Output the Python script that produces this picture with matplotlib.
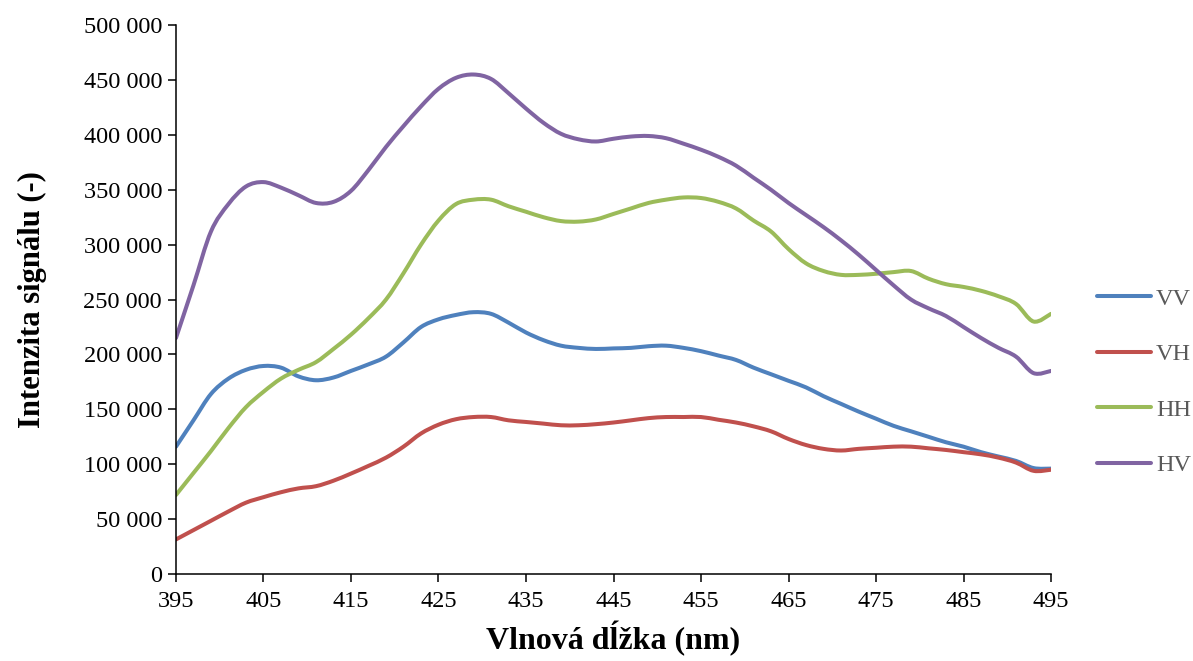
import matplotlib.pyplot as plt
from matplotlib.ticker import FuncFormatter, MultipleLocator
from matplotlib.path import Path
from matplotlib.patches import PathPatch

plt.rcParams['font.family'] = ['Liberation Serif', 'DejaVu Serif']

# wavelength (nm)
wl = list(range(395, 496, 2))

# signal intensity (thousands)
vv = [116, 140, 164, 178, 186, 189.5, 188, 180, 176.5, 179, 185, 191, 198, 211, 225, 232,
      236, 238.5, 237, 229, 220, 213, 208, 206, 205, 205.5, 206, 207.5, 208, 206, 203, 199,
      195, 188, 182, 176, 170, 162, 155, 148, 141.5, 135, 130, 125, 120, 116, 111, 107,
      103, 96.5, 96]
vh = [31.5, 40, 48.5, 57, 65, 70, 74.5, 78, 80, 85, 91.5, 98.5, 106, 116, 128, 136,
      141, 143, 143, 140, 138.5, 137, 135.5, 135.5, 136.5, 138, 140, 142, 143, 143, 143, 140.5,
      138, 134.5, 130, 123, 117.5, 114, 112.5, 114, 115, 116, 116, 114.5, 113, 111, 109, 106,
      101.5, 94, 95]
hh = [72, 92, 112, 133, 152, 166, 178, 186, 193, 205, 218, 233, 250, 274, 300, 322,
      337, 341, 341, 335, 330, 325, 321.5, 321, 323, 328, 333, 338, 341, 343, 342.5, 339,
      333, 322, 312, 296, 283, 276, 272.5, 272.5, 273.5, 275, 276, 269, 264, 261.5, 258, 253,
      246, 230, 237]
hv = [215, 263, 312, 337, 353, 357, 352, 345, 338, 339, 349, 368, 389, 408, 426, 442,
      452, 455, 451, 438, 424, 411, 401, 396, 394, 396.5, 398.5, 399, 397, 392, 386.5, 380,
      372, 361, 350, 338, 327, 316, 304, 291, 277, 263, 250, 242, 235, 225, 215, 206,
      198, 183, 185]

series = [('VV', vv, '#4F81BD'), ('VH', vh, '#C0504D'),
          ('HH', hh, '#9BBB59'), ('HV', hv, '#8064A2')]

xticks = list(range(395, 496, 10))


def smooth_path(xs, ys):
    # Excel-like smoothed line: bezier segments through the data points
    pts = list(zip(xs, ys))
    verts = [pts[0]]
    codes = [Path.MOVETO]
    n = len(pts)
    for i in range(n - 1):
        p0 = pts[max(i - 1, 0)]
        p1 = pts[i]
        p2 = pts[i + 1]
        p3 = pts[min(i + 2, n - 1)]
        c1 = (p1[0] + (p2[0] - p0[0]) / 6, p1[1] + (p2[1] - p0[1]) / 6)
        c2 = (p2[0] - (p3[0] - p1[0]) / 6, p2[1] - (p3[1] - p1[1]) / 6)
        verts += [c1, c2, p2]
        codes += [Path.CURVE4] * 3
    return Path(verts, codes)


fig = plt.figure(figsize=(11.93, 6.61), dpi=100)
ax = fig.add_axes([0.1475, 0.1316, 0.7335, 0.8304])

for name, vals, col in series:
    yv = [v * 1000 for v in vals]
    ax.add_patch(PathPatch(smooth_path(wl, yv), facecolor='none', edgecolor=col,
                           lw=2.9, capstyle='round', joinstyle='round'))
    ax.plot([], [], color=col, lw=2.9, label=name, solid_capstyle='round')

ax.set_xlim(395, 495)
ax.set_ylim(0, 500000)
ax.set_xticks(xticks)
ax.yaxis.set_major_locator(MultipleLocator(50000))
ax.yaxis.set_major_formatter(FuncFormatter(lambda v, p: '{:,}'.format(int(v)).replace(',', ' ')))

for s in ['top', 'right']:
    ax.spines[s].set_visible(False)
for s in ['left', 'bottom']:
    ax.spines[s].set_linewidth(1.1)
ax.tick_params(direction='out', length=6, width=1.1, labelsize=17.5)
ax.tick_params(axis='x', pad=6)
ax.tick_params(axis='y', pad=4)

ax.set_xlabel('Vlnová dĺžka (nm)', fontsize=23, fontweight='bold', labelpad=7)
ax.set_ylabel('Intenzita signálu (-)', fontsize=22, fontweight='bold', labelpad=26)

leg = ax.legend(loc='center left', bbox_to_anchor=(1.052, 0.35), frameon=False,
                fontsize=17.5, handlelength=2.25, handletextpad=0.2, labelspacing=1.38,
                borderpad=0, borderaxespad=0)
for t in leg.get_texts():
    t.set_color('#595959')

fig.savefig('out.png', dpi=100)
